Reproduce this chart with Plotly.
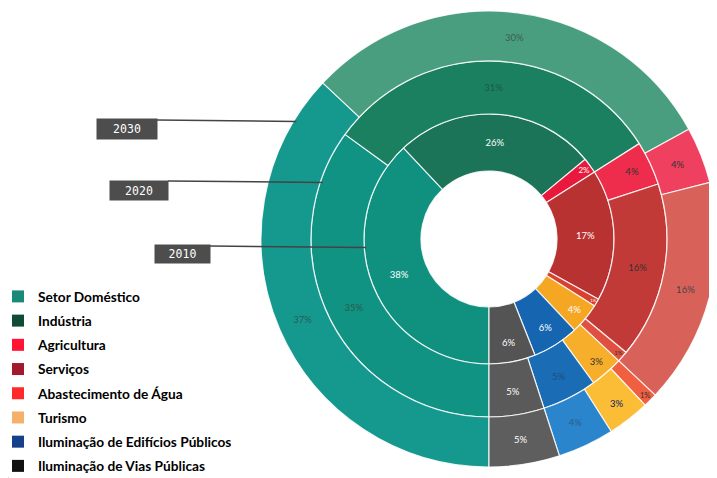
import math
import plotly.graph_objects as go

categories = ["Setor Doméstico", "Indústria", "Agricultura", "Serviços",
              "Abastecimento de Água", "Turismo",
              "Iluminação de Edifícios Públicos", "Iluminação de Vias Públicas"]
years = ["2010", "2020", "2030"]
v2010 = [38, 26, 2, 17, 1, 4, 6, 6]
v2020 = [35, 31, 4, 16, 1, 3, 5, 5]
v2030 = [37, 30, 4, 16, 1, 3, 4, 5]

legend_colors = ["#1a8a78", "#0e4d33", "#ff1434", "#a3182a", "#ff2a2a",
                 "#f5b06a", "#15418a", "#111111"]
colors_2010 = ["#10907f", "#1b7457", "#e8193c", "#b83232", "#d84030",
               "#f5a623", "#1565b0", "#545454"]
colors_2020 = ["#119384", "#1a8060", "#ee2c4c", "#c23a38", "#e05040",
               "#f7ae2a", "#1a6cb5", "#5a5a5a"]
colors_2030 = ["#15998f", "#4a9e80", "#f04060", "#d8625a", "#f06040",
               "#fbbd35", "#2a85cc", "#5e5e5e"]
text_2010 = ["white"] * 8
text_2020 = ["#2b5a4a", "#1f5a45", "#333333", "#333333", "#333333",
             "#333333", "#1d4f80", "white"]
text_2030 = ["#2b5a55", "#3a5e50", "#333333", "#444444", "#333333",
             "#0a1a6a", "#2a5e8a", "white"]

# page is 717x478; the html body has an 8px margin, so the figure is offset by 8px
PAGE_W, PAGE_H, OFF = 717, 478, 8
W, H = PAGE_W - OFF, PAGE_H - OFF
CX, CY = 489, 239          # ring centre in page pixels
radii = [68, 125, 178, 228]


def px(x):
    return (x - OFF) / W


def py(y):
    return 1 - (y - OFF) / H


def dom(r):
    return dict(x=[max(0.0, px(CX - r)), min(1.0, px(CX + r))],
                y=[max(0.0, py(CY + r)), min(1.0, py(CY - r))])


fig = go.Figure()

rings = [(v2010, colors_2010, text_2010), (v2020, colors_2020, text_2020),
         (v2030, colors_2030, text_2030)]
for i, (vals, cols, tcols) in enumerate(rings):
    r_out = radii[i + 1]
    fig.add_trace(go.Pie(
        labels=categories, values=vals, name=years[i],
        domain=dom(r_out), hole=radii[i] / r_out,
        sort=False, direction="clockwise", rotation=180,
        marker=dict(colors=cols, line=dict(color="rgba(255,255,255,0.85)", width=1.2)),
        texttemplate="%{value}%", textposition="inside",
        insidetextorientation="horizontal",
        textfont=dict(size=9.5, color=tcols, family="Lato"),
        showlegend=False, hoverinfo="label+value",
    ))

# legend entries (tiny pies used only for the legend)
for k, (c, col) in enumerate(zip(categories, legend_colors)):
    fig.add_trace(go.Pie(
        labels=[c], values=[1], domain=dict(x=[0, 0.0005], y=[0, 0.0005]),
        marker=dict(colors=[col], line=dict(width=0)),
        textinfo="none", hoverinfo="skip", showlegend=True,
        legendgroup="g%d" % k, sort=False,
    ))

# year tags with leader lines (page pixels: box centre x, y, width, height, line y, ring radius)
tags = [("2030", 127, 129, 60, 20, 120, radii[3]),
        ("2020", 139, 190, 58, 19, 181, radii[2]),
        ("2010", 182, 254, 55, 18, 246, radii[1])]
shapes = []
annotations = []
for label, bx, by, bw, bh, ly, r in tags:
    x_end = CX - math.sqrt(r ** 2 - (CY - ly) ** 2) + 2
    shapes.append(dict(type="line", xref="paper", yref="paper",
                       x0=px(bx + bw / 2), x1=px(x_end),
                       y0=py(ly), y1=py(ly + 1.5),
                       line=dict(color="#444444", width=1.5)))
    annotations.append(dict(text=label, xref="paper", yref="paper",
                            x=px(bx), y=py(by), showarrow=False,
                            xanchor="center", yanchor="middle",
                            width=bw - 2, height=bh - 2, bgcolor="#4d4d4d",
                            font=dict(color="white", size=11.5, family="DejaVu Sans Mono")))

fig.update_layout(
    width=W, height=H,
    margin=dict(l=0, r=0, t=0, b=0, autoexpand=False),
    paper_bgcolor="white", plot_bgcolor="white",
    shapes=shapes, annotations=annotations,
    legend=dict(x=px(-2), y=py(281), xanchor="left", yanchor="top",
                font=dict(size=13.7, color="black", family="Lato", weight="bold"),
                tracegroupgap=3.4, bgcolor="rgba(0,0,0,0)", itemclick=False),
)

fig.write_html("out.html")
